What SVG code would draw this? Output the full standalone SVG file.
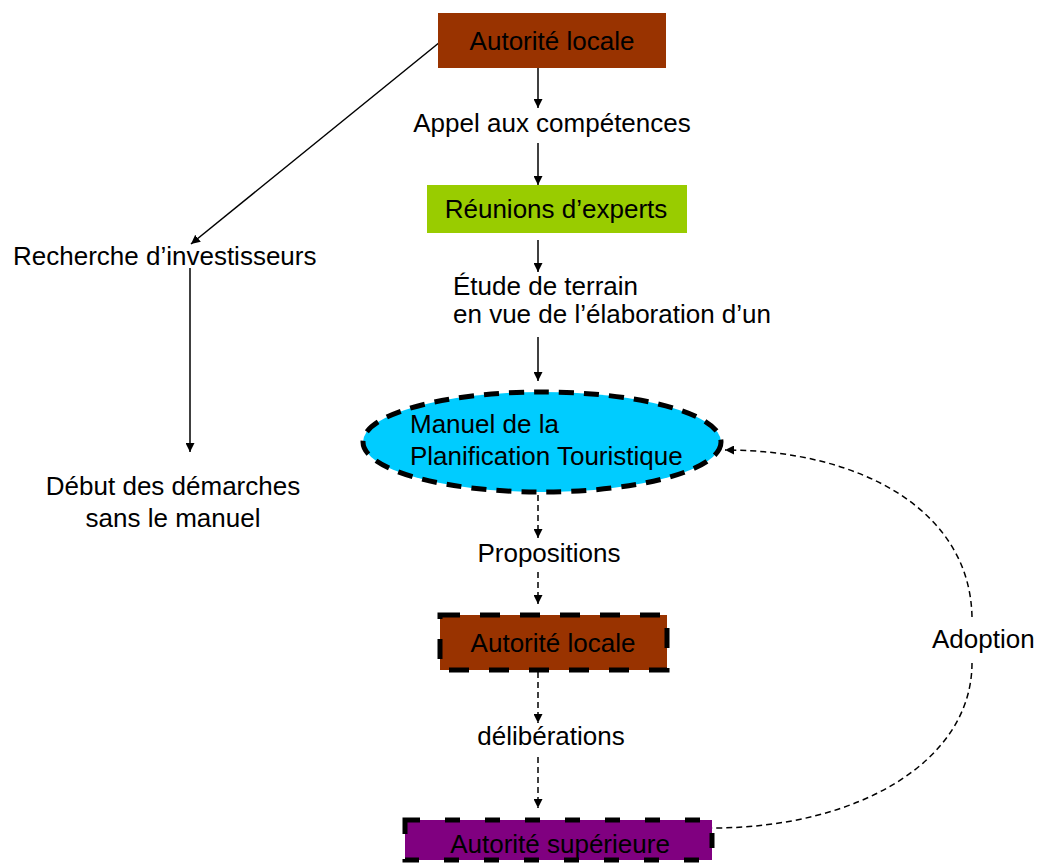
<svg xmlns="http://www.w3.org/2000/svg" width="1040" height="863" viewBox="0 0 1040 863">
<style>
text{font-family:"Liberation Sans",Arial,sans-serif;font-size:26px;fill:#000}
.c{text-anchor:middle}
.solid{stroke:#000;stroke-width:1.5;fill:none}
.dash{stroke:#000;stroke-width:1.5;fill:none;stroke-dasharray:6 4}
.bdash{stroke:#000;stroke-width:5}
</style>
<defs>
<marker id="ah" viewBox="0 0 10 10" refX="10" refY="5" markerWidth="9" markerHeight="9" markerUnits="userSpaceOnUse" orient="auto">
<path d="M0,0 L10,5 L0,10 z" fill="#000"/>
</marker>
<marker id="ahs" viewBox="0 0 10 10" refX="10" refY="5" markerWidth="11" markerHeight="11" markerUnits="userSpaceOnUse" orient="auto">
<path d="M0,0 L10,5 L0,10 z" fill="#000"/>
</marker>
</defs>
<rect width="1040" height="863" fill="#fff"/>
<g id="connectors">
<line class="solid" x1="440" y1="42" x2="191" y2="244" marker-end="url(#ah)"/>
<line class="solid" x1="190" y1="268" x2="190" y2="452" marker-end="url(#ah)"/>
<line class="solid" x1="538" y1="68" x2="538" y2="108" marker-end="url(#ah)"/>
<line class="solid" x1="538" y1="143" x2="538" y2="185" marker-end="url(#ah)"/>
<line class="solid" x1="538" y1="240" x2="538" y2="272" marker-end="url(#ah)"/>
<line class="solid" x1="538" y1="337" x2="538" y2="381" marker-end="url(#ah)"/>
<line class="dash" x1="538" y1="495" x2="538" y2="538" marker-end="url(#ah)"/>
<line class="dash" x1="538" y1="572" x2="538" y2="604" marker-end="url(#ah)"/>
<line class="dash" x1="538" y1="672" x2="538" y2="723" marker-end="url(#ah)"/>
<line class="dash" x1="538" y1="757" x2="538" y2="808" marker-end="url(#ah)"/>
<path class="dash" d="M972,663 C972,760 860,828 712,828"/>
<path class="dash" d="M972,617 C970,510 860,450 725,450" marker-end="url(#ah)"/>
<text class="c" x="552" y="132">Appel aux compétences</text>
<text x="453" y="295">Étude de terrain</text>
<text x="453" y="323">en vue de l’élaboration d’un</text>
<text x="13" y="265">Recherche d’investisseurs</text>
<text class="c" x="173" y="495">Début des démarches</text>
<text class="c" x="173" y="527">sans le manuel</text>
<text class="c" x="549" y="562">Propositions</text>
<text class="c" x="551" y="745">délibérations</text>
<text x="932" y="648">Adoption</text>
</g>
<g id="autorite-locale-1">
<rect x="438" y="13" width="228" height="55" fill="#993300"/>
<text class="c" x="552" y="50">Autorité locale</text>
</g>
<g id="reunions-experts">
<rect x="427" y="185" width="260" height="48" fill="#99CC00"/>
<text class="c" x="556" y="218">Réunions d’experts</text>
</g>
<g id="manuel">
<ellipse cx="542" cy="442" rx="179" ry="50" fill="#00CCFF" class="bdash" stroke-dasharray="15 10"/>
<text x="410" y="433">Manuel de la</text>
<text x="410" y="465">Planification Touristique</text>
</g>
<g id="autorite-locale-2">
<rect x="440" y="615" width="227" height="55" fill="#993300" class="bdash" stroke-dasharray="20 20"/>
<text class="c" x="553" y="652">Autorité locale</text>
</g>
<g id="autorite-superieure">
<rect x="405" y="820" width="307" height="40" fill="#800080" class="bdash" stroke-dasharray="15 25"/>
<text class="c" x="560" y="853">Autorité supérieure</text>
</g>
</svg>
